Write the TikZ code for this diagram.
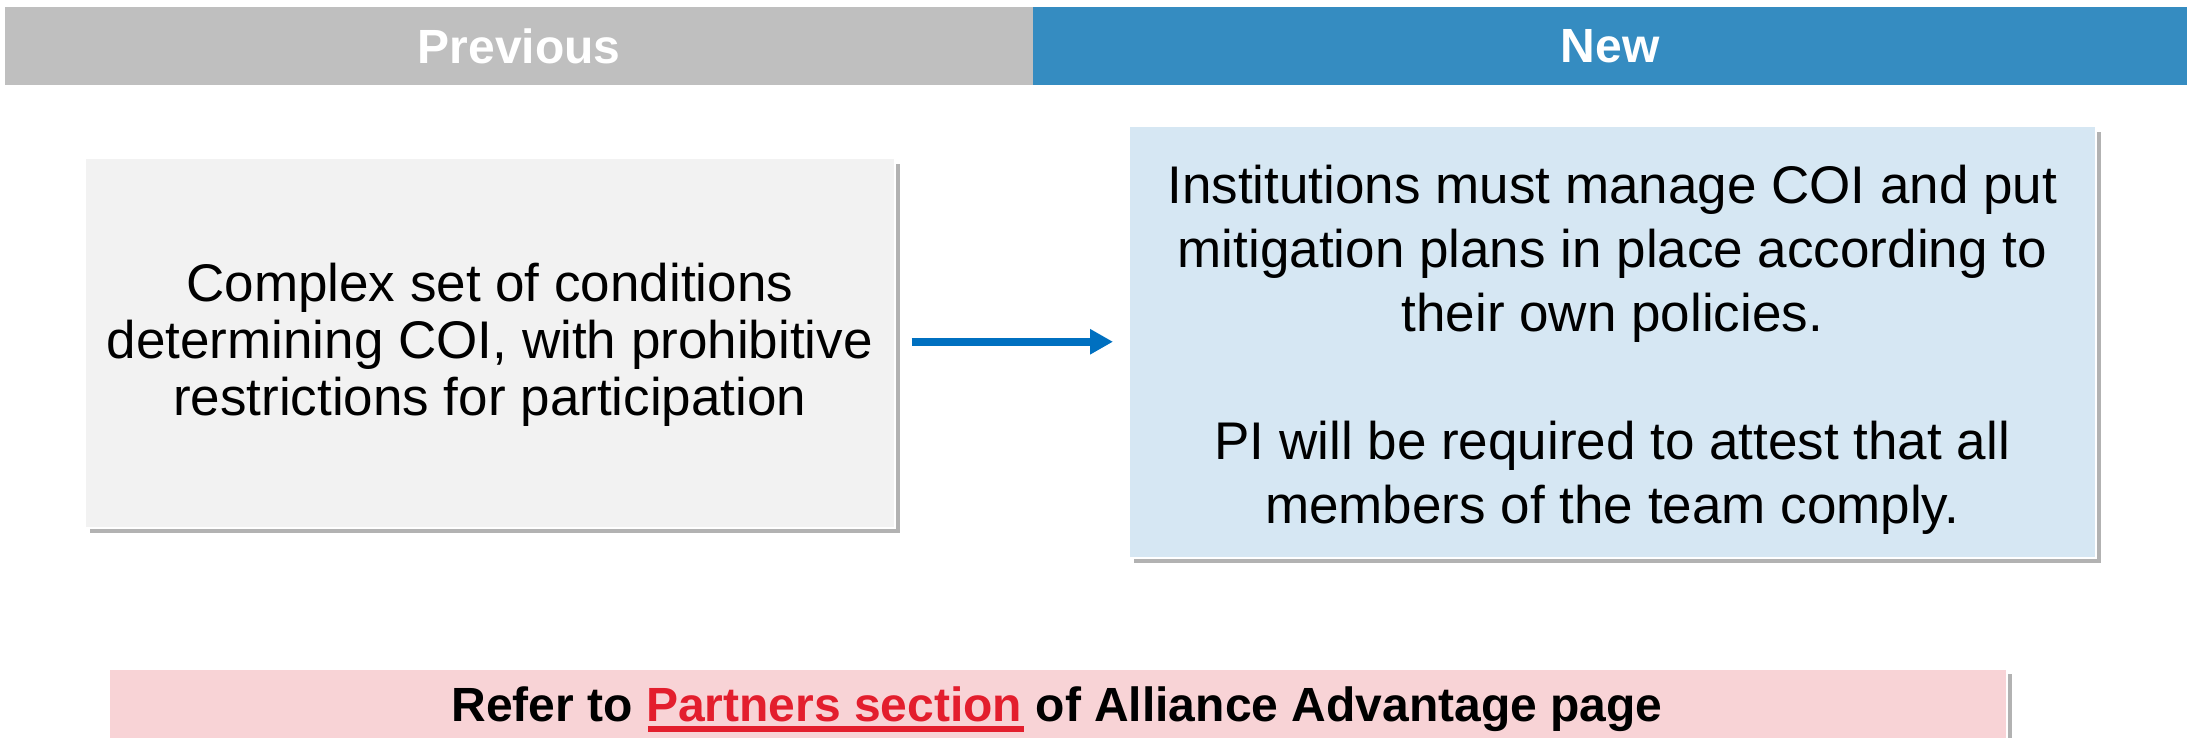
\documentclass[tikz,border=0pt]{standalone}
\usepackage{fontspec}
\setmainfont{Liberation Sans}
\usetikzlibrary{arrows.meta,shadows}
\definecolor{hdrgrey}{RGB}{191,191,191}
\definecolor{hdrblue}{RGB}{53,140,193}
\definecolor{boxgrey}{RGB}{242,242,242}
\definecolor{boxblue}{RGB}{214,231,243}
\definecolor{boxpink}{RGB}{248,211,214}
\definecolor{arrblue}{RGB}{0,112,192}
\definecolor{linkred}{RGB}{227,30,45}
\tikzset{
  hdr/.style={anchor=north west, inner sep=0pt, text=white,
    font=\bfseries\fontsize{48}{56}\selectfont},
  card/.style={anchor=north west, inner sep=0pt, draw=white, line width=1.5pt,
    drop shadow={shadow xshift=5pt, shadow yshift=-5pt, fill=black, opacity=0.3}},
  bodytxt/.style={align=center, text=black},
  arr/.style={draw=arrblue, line width=8pt, -{Triangle[length=23pt,width=24pt]}},
}
\begin{document}
\begin{tikzpicture}[x=1pt,y=-1pt]
\useasboundingbox (0,0) rectangle (2195,738);
\clip (0,0) rectangle (2195,738);
% header bars
\node[hdr, fill=hdrgrey, minimum width=1028pt, minimum height=78pt] (prev) at (5,7) {};
\node[hdr, fill=hdrblue, minimum width=1154pt, minimum height=78pt] (new) at (1033,7) {};
\node[text=white, font=\bfseries\fontsize{48}{56}\selectfont, inner sep=0pt] (prevtxt) at (prev.center) {Previous};
\node[text=white, font=\bfseries\fontsize{48}{56}\selectfont, inner sep=0pt] (newtxt) at (new.center) {New};
% boxes
\node[card, fill=boxgrey, minimum width=810pt, minimum height=369pt] (left) at (84,158) {};
\node[card, fill=boxblue, minimum width=967pt, minimum height=431pt] (right) at (1128,126) {};
\node[card, fill=boxpink, minimum width=1898pt, minimum height=120pt] (bottom) at (108,668) {};
% texts
\node[bodytxt, font=\fontsize{53}{57}\selectfont] (lefttxt) at ([yshift=-2pt]left.center)
  {Complex set of conditions\\determining COI, with prohibitive\\restrictions for participation};
\node[bodytxt, font=\fontsize{53}{64}\selectfont] (righttxt) at ([yshift=-8pt]right.center)
  {Institutions must manage COI and put\\mitigation plans in place according to\\their own policies.\\[64pt]PI will be required to attest that all\\members of the team comply.};
\node[anchor=base, inner sep=0pt, font=\bfseries\fontsize{48}{56}\selectfont] (bottomtxt) at (1057,721)
  {Refer to {\color{linkred}Partners section} of Alliance Advantage page};
\coordinate (ulA) at (648,729);
\coordinate (ulB) at (1024,729);
\draw[linkred, line width=6pt] (ulA) -- (ulB);
% arrow
\coordinate (arrS) at ([xshift=16pt,yshift=1.5pt]left.east);
\draw[arr] (arrS) -- ([xshift=-15pt]arrS -| right.west);
\end{tikzpicture}
\end{document}
